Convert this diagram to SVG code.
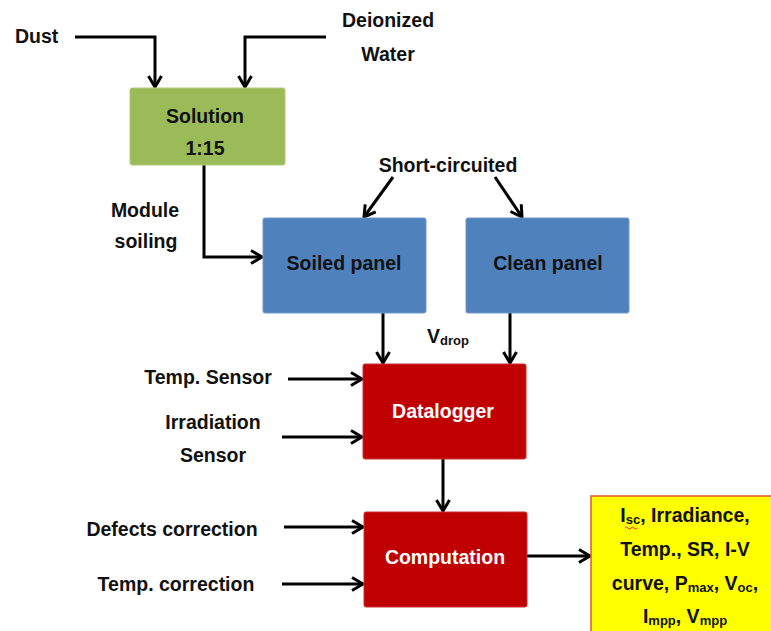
<svg xmlns="http://www.w3.org/2000/svg" width="771" height="631" viewBox="0 0 771 631">
<defs>
<marker id="arr" markerUnits="userSpaceOnUse" markerWidth="18" markerHeight="18" viewBox="0 0 18 18" refX="15" refY="9" orient="auto">
<path d="M4,2.5 L15,9 L4,15.5" fill="none" stroke="#000" stroke-width="3"/>
</marker>
</defs>
<style>
text{font-family:"Liberation Sans",Arial,sans-serif;font-weight:bold;font-size:19.5px;fill:#111;}
.w{fill:#fff;}
.m{text-anchor:middle;}
.sub{font-size:13px;}
.c{fill:none;stroke:#000;stroke-width:3;}
.green{fill:#9BBB59;stroke:#AFCB7A;stroke-width:1;}
.blue{fill:#4F81BD;stroke:#6E97C9;stroke-width:1;}
.red{fill:#C00000;stroke:#CC3030;stroke-width:1;}
</style>
<rect width="771" height="631" fill="#fff"/>

<g id="connectors">
<path class="c" d="M75,37 H155 V87" marker-end="url(#arr)"/>
<path class="c" d="M326,37 H245 V87" marker-end="url(#arr)"/>
<path class="c" d="M204,165 V257 H262" marker-end="url(#arr)"/>
<path class="c" d="M393,177 L364,217" marker-end="url(#arr)"/>
<path class="c" d="M495,177 L522,217" marker-end="url(#arr)"/>
<path class="c" d="M383,313 V363" marker-end="url(#arr)"/>
<path class="c" d="M510,313 V363" marker-end="url(#arr)"/>
<path class="c" d="M288,379 H362" marker-end="url(#arr)"/>
<path class="c" d="M282,437 H362" marker-end="url(#arr)"/>
<path class="c" d="M443,459 V511" marker-end="url(#arr)"/>
<path class="c" d="M284,527 H363" marker-end="url(#arr)"/>
<path class="c" d="M282,584 H363" marker-end="url(#arr)"/>
<path class="c" d="M527,556 H590" marker-end="url(#arr)"/>
</g>

<g id="labels">
<text x="15" y="43">Dust</text>
<text class="m" x="388" y="27">Deionized</text>
<text class="m" x="388" y="61">Water</text>
<text class="m" x="145" y="217">Module</text>
<text class="m" x="146" y="248">soiling</text>
<text class="m" x="448" y="172">Short-circuited</text>
<text x="427" y="343">V<tspan class="sub" dy="2">drop</tspan></text>
<text class="m" x="208" y="384">Temp. Sensor</text>
<text class="m" x="213" y="429">Irradiation</text>
<text class="m" x="213" y="462">Sensor</text>
<text class="m" x="172" y="536">Defects correction</text>
<text class="m" x="176" y="591">Temp. correction</text>
</g>

<g id="solution">
<rect class="green" x="130" y="88" width="155" height="77" rx="2"/>
<text class="m" x="205" y="123">Solution</text>
<text class="m" x="205" y="155">1:15</text>
</g>

<g id="soiled-panel">
<rect class="blue" x="263" y="218" width="163" height="95" rx="2"/>
<text class="m" x="344" y="270">Soiled panel</text>
</g>

<g id="clean-panel">
<rect class="blue" x="466" y="218" width="163" height="95" rx="2"/>
<text class="m" x="548" y="270">Clean panel</text>
</g>

<g id="datalogger">
<rect class="red" x="363" y="364" width="163" height="95" rx="2"/>
<text class="m w" x="443" y="418">Datalogger</text>
</g>

<g id="computation">
<rect class="red" x="364" y="512" width="163" height="95" rx="2"/>
<text class="m w" x="445" y="564">Computation</text>
</g>

<g id="outputs">
<rect x="591" y="496" width="190" height="150" fill="#FFFF00" stroke="#E2572A" stroke-width="1.5"/>
<text class="m" x="685" y="522">I<tspan class="sub" dy="2">sc</tspan><tspan dy="-2">, Irradiance,</tspan></text>
<path d="M625,528 q1.5,-2 3,0 t3,0 t3,0 t3,0" fill="none" stroke="#E03020" stroke-width="1"/>
<text class="m" x="685" y="556">Temp., SR, I-V</text>
<text class="m" x="685" y="590">curve, P<tspan class="sub" dy="2">max</tspan><tspan dy="-2">, V</tspan><tspan class="sub" dy="2">oc</tspan><tspan dy="-2">,</tspan></text>
<text class="m" x="685" y="623">I<tspan class="sub" dy="2">mpp</tspan><tspan dy="-2">, V</tspan><tspan class="sub" dy="2">mpp</tspan></text>
</g>
</svg>
